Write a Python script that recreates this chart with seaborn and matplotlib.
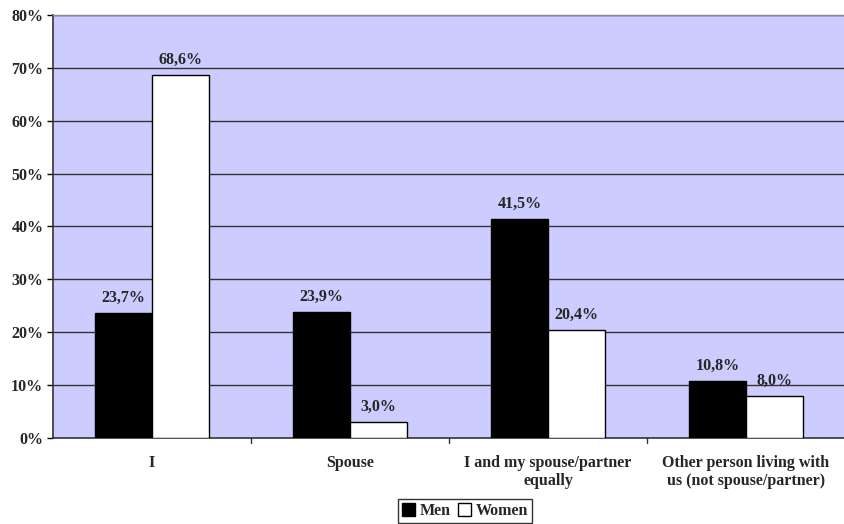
import matplotlib
matplotlib.use("Agg")
import matplotlib.pyplot as plt
import seaborn as sns
import pandas as pd
import numpy as np

categories = ["I", "Spouse", "I and my spouse/partner\nequally", "Other person living with\nus (not spouse/partner)"]
men = [23.7, 23.9, 41.5, 10.8]
women = [68.6, 3.0, 20.4, 8.0]
series = ["Men", "Women"]
yticks = [0, 10, 20, 30, 40, 50, 60, 70, 80]

df = pd.DataFrame({
    "category": categories * 2,
    "value": men + women,
    "series": [series[0]] * 4 + [series[1]] * 4,
})

sns.set_theme(style="white")
plt.rcParams['font.family'] = ['Liberation Serif', 'DejaVu Serif']
plt.rcParams['font.weight'] = 'bold'

fig = plt.figure(figsize=(8.45, 5.24), dpi=100)
ax = fig.add_axes([53/845, 1 - 438/524, (845-53)/845, (438-15)/524])
ax.set_facecolor("#CCCCFF")

sns.barplot(data=df, x="category", y="value", hue="series", order=categories,
            hue_order=series, palette={"Men": "black", "Women": "white"},
            edgecolor="black", linewidth=1, width=0.576, ax=ax, legend=False,
            zorder=3)

ax.set_ylim(0, 80)
ax.set_xlim(-0.5, 3.5)
ax.set_yticks(yticks)
ax.set_yticklabels([f"{t}%" for t in yticks], fontsize=11.5, fontweight='bold')
for t in yticks[1:]:
    ax.axhline(t, color="#333333", lw=1, zorder=1)

ax.set_xticks(range(4))
ax.set_xticklabels(categories, fontsize=11.5, fontweight='bold', linespacing=1.2)
ax.tick_params(axis='x', length=0, pad=12)
ax.tick_params(axis='y', length=4, width=1, color='black', direction='out', left=True, pad=3)
for b in [0.5, 1.5, 2.5]:
    ax.plot([b, b], [0, -0.012], transform=ax.get_xaxis_transform(), color='#333333', lw=1, clip_on=False)

for s in ['top', 'right']:
    ax.spines[s].set_color('#888888')
    ax.spines[s].set_linewidth(1)
for s in ['left', 'bottom']:
    ax.spines[s].set_color('#333333')
    ax.spines[s].set_linewidth(1.2)

ax.set_xlabel("")
ax.set_ylabel("")

for container in ax.containers:
    labels = [f"{v:.1f}%".replace(".", ",") for v in container.datavalues]
    ax.bar_label(container, labels=labels, padding=5, fontsize=11.5, fontweight='bold')

from matplotlib.patches import Patch
handles = [Patch(facecolor='black', edgecolor='black', label='Men'),
           Patch(facecolor='white', edgecolor='black', label='Women')]
leg = fig.legend(handles=handles, loc='center', bbox_to_anchor=(465/845, 1 - 511/524),
                 ncol=2, frameon=True, fancybox=False, edgecolor='black',
                 fontsize=11.5, handlelength=0.8, handleheight=0.8, handletextpad=0.3,
                 columnspacing=0.5, borderpad=0.25, borderaxespad=0)
leg.get_frame().set_linewidth(1)
for t in leg.get_texts():
    t.set_fontweight('bold')

fig.savefig("out.png", dpi=100)
